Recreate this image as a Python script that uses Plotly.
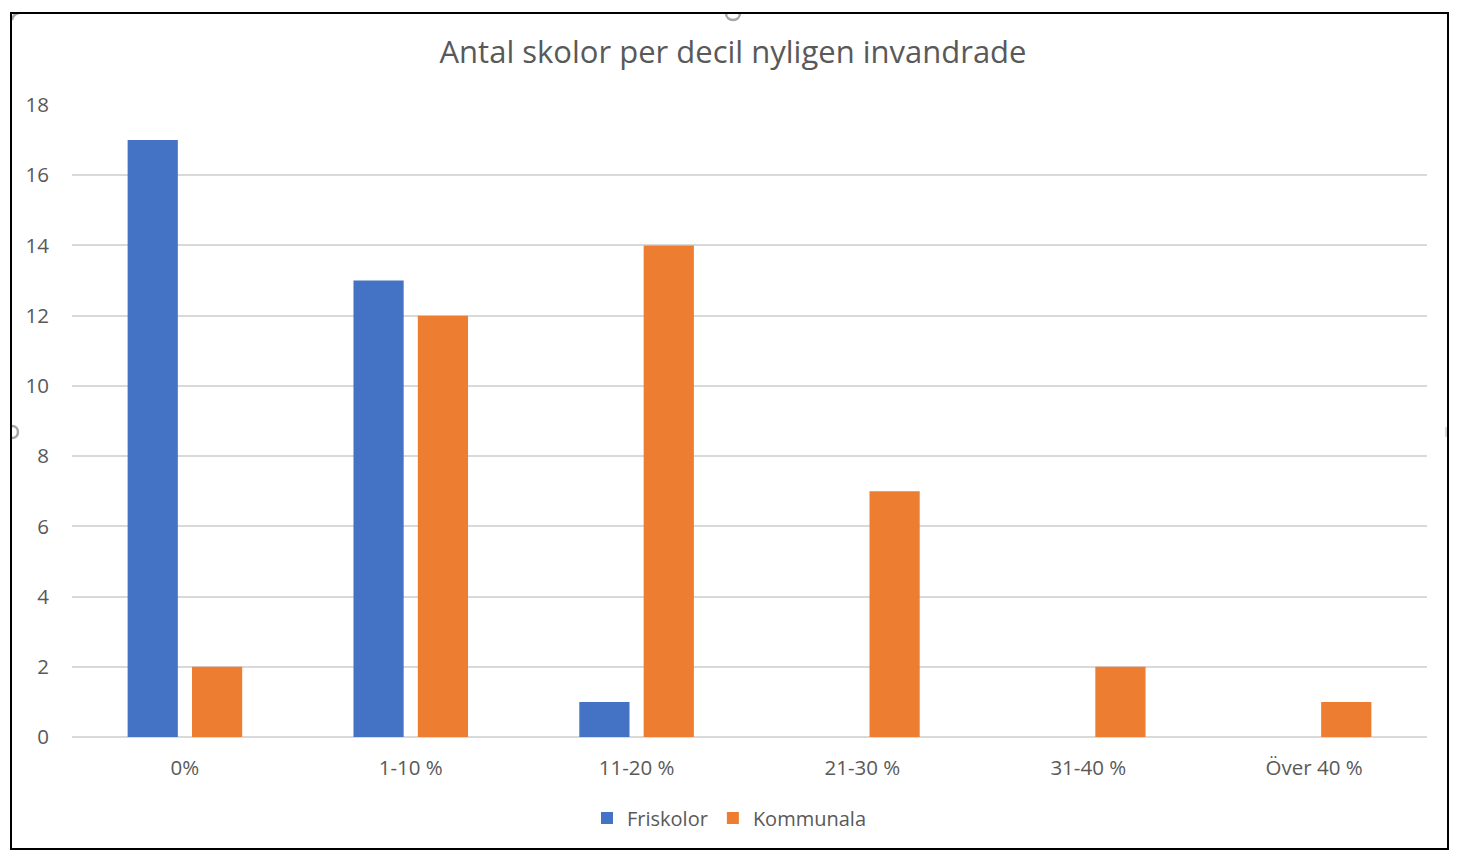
import plotly.graph_objects as go

categories = ["0%", "1-10 %", "11-20 %", "21-30 %", "31-40 %", "Över 40 %"]
friskolor = [17, 13, 1, 0, 0, 0]
kommunala = [2, 12, 14, 7, 2, 1]
y_ticks = [0, 2, 4, 6, 8, 10, 12, 14, 16, 18]

W, H = 1460, 858
L, R, T, B = 72, 33, 105, 121
pw, ph = W - L - R, H - T - B

def px(x):
    return (x - L) / pw

def py(y):
    return (H - B - y) / ph

FONT = "Open Sans"
GRAY = "#595959"
HANDLE = "#a6a6a6"

fig = go.Figure()
fig.add_trace(go.Bar(x=categories, y=friskolor, name="Friskolor",
                     marker=dict(color="#4472C4", line=dict(width=0))))
fig.add_trace(go.Bar(x=categories, y=kommunala, name="Kommunala",
                     marker=dict(color="#ED7D31", line=dict(width=0))))

def half_circle_down(cx, cy, r):
    k = 1.33 * r
    return (f"M {px(cx - r)},{py(cy)} C {px(cx - r)},{py(cy + k)} "
            f"{px(cx + r)},{py(cy + k)} {px(cx + r)},{py(cy)}")

def half_circle_right(cx, cy, r):
    k = 1.33 * r
    return (f"M {px(cx)},{py(cy - r)} C {px(cx + k)},{py(cy - r)} "
            f"{px(cx + k)},{py(cy + r)} {px(cx)},{py(cy + r)}")

shapes = [
    dict(type="path", xref="paper", yref="paper", path=half_circle_down(733, 13, 7),
         line=dict(color=HANDLE, width=2.5), layer="above"),
    dict(type="path", xref="paper", yref="paper", path=half_circle_right(12, 432, 6),
         line=dict(color=HANDLE, width=2.5), layer="above"),
    dict(type="path", xref="paper", yref="paper",
         path=f"M {px(12)},{py(20)} Q {px(13)},{py(14)} {px(19)},{py(13)}",
         line=dict(color=HANDLE, width=2.5), layer="above"),
    dict(type="line", xref="paper", yref="paper",
         x0=px(1446), x1=px(1446), y0=py(427), y1=py(437),
         line=dict(color="#cccccc", width=1.5), layer="above"),
    dict(type="rect", xref="paper", yref="paper",
         x0=px(11), x1=px(1448), y0=py(849), y1=py(13),
         line=dict(color="black", width=2), fillcolor="rgba(0,0,0,0)", layer="above"),
]

fig.update_layout(
    width=W, height=H,
    margin=dict(l=L, r=R, t=T, b=B, pad=0),
    paper_bgcolor="white", plot_bgcolor="white",
    barmode="group", bargap=0.43, bargroupgap=0.22,
    title=dict(text="Antal skolor per decil nyligen invandrade",
               x=733 / W, xref="container", xanchor="center",
               y=1 - 52 / H, yanchor="middle",
               font=dict(family=FONT, size=31, color=GRAY)),
    font=dict(family=FONT, color=GRAY),
    xaxis=dict(showgrid=False, showline=False, zeroline=False,
               ticks="", tickfont=dict(size=20.5, color=GRAY),
               ticklabelstandoff=16),
    yaxis=dict(range=[0, 18], tickvals=y_ticks, showgrid=True,
               gridcolor="#d9d9d9", gridwidth=1.5, zeroline=True,
               zerolinecolor="#d9d9d9", zerolinewidth=1.5, showline=False,
               ticks="", tickfont=dict(size=20.5, color=GRAY),
               ticklabelstandoff=22),
    legend=dict(orientation="h", x=px(729), xanchor="center", xref="paper",
                y=py(818), yanchor="middle", font=dict(size=20, color=GRAY),
                itemsizing="constant", itemwidth=30, traceorder="normal"),
    shapes=shapes,
    showlegend=True,
)

fig.write_html("out.html", config={"displayModeBar": False},
               post_script="document.body.style.margin='0px';document.body.style.padding='0px';")
